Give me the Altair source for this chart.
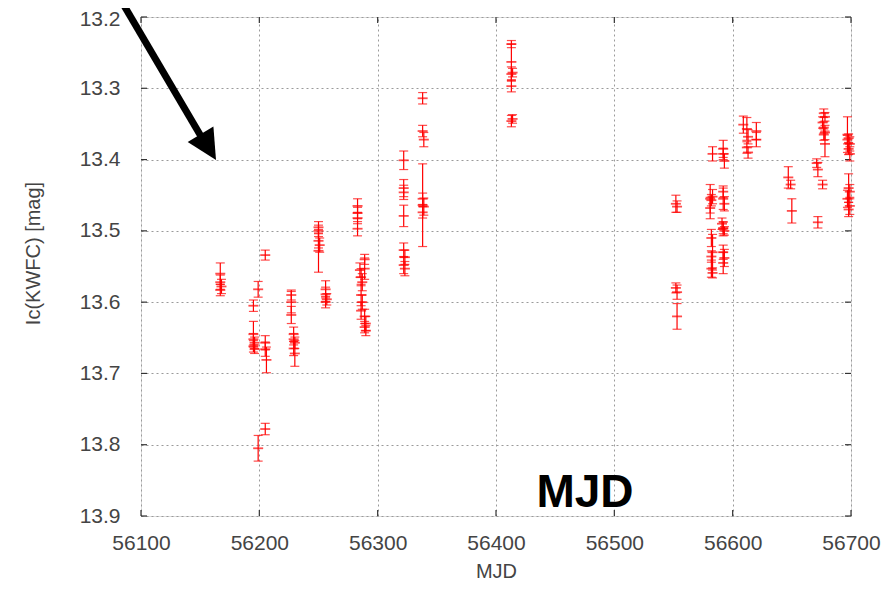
import altair as alt
import pandas as pd

# ---- data (MJD, Ic magnitude, 1-sigma error) ----
mjd = [
    56167, 56167, 56168, 56167,
    56199, 56195, 56195, 56195, 56196, 56195, 56196,
    56205, 56205, 56205, 56206, 56199, 56205,
    56227, 56227, 56227, 56229, 56229, 56230, 56229, 56230,
    56250, 56250, 56250, 56251, 56250,
    56256, 56256, 56257, 56256,
    56283, 56283, 56283, 56283,
    56289, 56289, 56285, 56286, 56287, 56286, 56287, 56286, 56289, 56290, 56289, 56290,
    56322, 56322, 56322, 56322, 56322, 56323, 56322, 56323,
    56338, 56338, 56339, 56338, 56338, 56339, 56338,
    56413, 56413, 56413, 56414, 56413, 56413, 56414,
    56552, 56553, 56552, 56553, 56553,
    56583, 56581, 56582, 56583, 56581, 56582, 56583, 56582, 56582, 56583,
    56592, 56592, 56593, 56592, 56592, 56593, 56591, 56592, 56593, 56592, 56592, 56593, 56592,
    56609, 56612, 56613, 56612, 56613, 56620, 56620,
    56647, 56649, 56650,
    56671, 56672, 56672, 56676,
    56677, 56678, 56676, 56677, 56678, 56677, 56678,
    56697, 56698, 56697, 56699, 56698, 56699, 56698, 56699, 56697, 56699, 56698,
]
mag = [
    13.560, 13.572, 13.578, 13.583,
    13.582, 13.605, 13.645, 13.652, 13.657, 13.662, 13.666,
    13.534, 13.657, 13.666, 13.681, 13.805, 13.778,
    13.590, 13.600, 13.618, 13.645, 13.652, 13.657, 13.665, 13.672,
    13.495, 13.500, 13.514, 13.520, 13.528,
    13.582, 13.589, 13.596, 13.600,
    13.465, 13.475, 13.482, 13.497,
    13.540, 13.553, 13.555, 13.565, 13.572, 13.590, 13.600, 13.612, 13.620, 13.630, 13.635, 13.640,
    13.401, 13.440, 13.446, 13.479, 13.527, 13.537, 13.548, 13.553,
    13.314, 13.360, 13.372, 13.464, 13.455, 13.466, 13.474,
    13.238, 13.263, 13.280, 13.278, 13.297, 13.346, 13.343,
    13.462, 13.466, 13.580, 13.586, 13.620,
    13.392, 13.455, 13.457, 13.452, 13.468, 13.510, 13.530, 13.536, 13.553, 13.559,
    13.385, 13.392, 13.402, 13.445, 13.455, 13.462, 13.490, 13.496, 13.500, 13.497, 13.530, 13.538, 13.545,
    13.351, 13.357, 13.368, 13.383, 13.390, 13.360, 13.372,
    13.425, 13.435, 13.472,
    13.405, 13.414, 13.488, 13.435,
    13.335, 13.340, 13.348, 13.355, 13.362, 13.365, 13.378,
    13.365, 13.370, 13.372, 13.378, 13.385, 13.392, 13.440, 13.445, 13.455, 13.465, 13.470,
]
err = [
    0.015, 0.010, 0.010, 0.008,
    0.011, 0.008, 0.018, 0.008, 0.008, 0.008, 0.006,
    0.007, 0.010, 0.010, 0.018, 0.018, 0.008,
    0.007, 0.015, 0.012, 0.010, 0.008, 0.008, 0.010, 0.018,
    0.008, 0.008, 0.010, 0.010, 0.030,
    0.012, 0.010, 0.008, 0.008,
    0.010, 0.008, 0.008, 0.010,
    0.007, 0.015, 0.010, 0.012, 0.012, 0.015, 0.010, 0.012, 0.010, 0.010, 0.008, 0.007,
    0.013, 0.012, 0.010, 0.015, 0.010, 0.010, 0.012, 0.010,
    0.008, 0.008, 0.010, 0.058, 0.008, 0.012, 0.008,
    0.005, 0.025, 0.010, 0.006, 0.008, 0.008, 0.006,
    0.012, 0.008, 0.007, 0.010, 0.018,
    0.010, 0.020, 0.008, 0.010, 0.015, 0.012, 0.025, 0.008, 0.012, 0.007,
    0.012, 0.008, 0.010, 0.008, 0.015, 0.010, 0.008, 0.008, 0.006, 0.010, 0.010, 0.012, 0.015,
    0.012, 0.016, 0.010, 0.008, 0.008, 0.012, 0.010,
    0.015, 0.006, 0.017,
    0.006, 0.010, 0.008, 0.006,
    0.006, 0.006, 0.008, 0.008, 0.010, 0.008, 0.018,
    0.025, 0.006, 0.006, 0.010, 0.008, 0.010, 0.020, 0.010, 0.012, 0.012, 0.010,
]

x_ticks = [56100, 56200, 56300, 56400, 56500, 56600, 56700]
y_ticks = [13.2, 13.3, 13.4, 13.5, 13.6, 13.7, 13.8, 13.9]
annotation = ["MJD"]

df = pd.DataFrame({"MJD": mjd, "mag": mag, "err": err})
df["lo"] = df["mag"] - df["err"]
df["hi"] = df["mag"] + df["err"]
xdf = pd.DataFrame({"v": x_ticks})
ydf = pd.DataFrame({"v": y_ticks})
one = pd.DataFrame({"t": annotation})

W, H = 710, 499
FONT = "Liberation Sans"
RED = "#ff0000"
GRID = dict(grid=True, gridColor="#9a9a9a", gridDash=[2, 3], gridWidth=1)

xs = alt.Scale(domain=[56100, 56700], nice=False, zero=False)
ys = alt.Scale(domain=[13.2, 13.9], reverse=True, nice=False, zero=False)

x_axis = alt.Axis(values=x_ticks, format="d", title="MJD", ticks=False, domain=False,
                  labelPadding=16, labelFontSize=21, labelColor="#444", labelFont=FONT,
                  titleFontSize=20, titleColor="#444", titleFont=FONT, titleFontWeight="normal",
                  titleY=61, titleBaseline="alphabetic", labelFlush=False, **GRID)
y_axis = alt.Axis(values=y_ticks, format=".1f", title="Ic(KWFC) [mag]", ticks=False, domain=False,
                  labelPadding=21, labelFontSize=21, labelColor="#444", labelFont=FONT,
                  labelOffset=alt.condition("datum.value >= 13.19 && datum.value <= 13.21",
                                            alt.value(2), alt.value(0)),
                  titleFontSize=20, titleColor="#444", titleFont=FONT, titleFontWeight="normal",
                  titleX=-108, titleY=236, titleBaseline="middle", titleAngle=-90,
                  labelFlush=False, **GRID)


def X(f):
    return alt.X(f"{f}:Q", scale=xs, axis=x_axis)


def Y(f):
    return alt.Y(f"{f}:Q", scale=ys, axis=y_axis)


base = alt.Chart(df)
bars = base.mark_rule(color=RED, strokeWidth=1.2).encode(
    x=X("MJD"), y=Y("lo"), y2="hi:Q")
cap_lo = base.mark_tick(color=RED, orient="horizontal", size=9, thickness=1.2).encode(
    x=X("MJD"), y=Y("lo"))
cap_hi = base.mark_tick(color=RED, orient="horizontal", size=9, thickness=1.2).encode(
    x=X("MJD"), y=Y("hi"))
center = base.mark_tick(color=RED, orient="horizontal", size=10, thickness=1.8).encode(
    x=X("MJD"), y=Y("mag"))

# inside tick marks on the frame (gnuplot style, mirrored)
tl = alt.Chart(ydf).mark_rule(color="#333", strokeWidth=1.2).encode(
    y=Y("v"), x=alt.value(0), x2=alt.value(6))
tr = alt.Chart(ydf).mark_rule(color="#333", strokeWidth=1.2).encode(
    y=Y("v"), x=alt.value(W - 6), x2=alt.value(W))
tb = alt.Chart(xdf).mark_rule(color="#333", strokeWidth=1.2).encode(
    x=X("v"), y=alt.value(H - 6), y2=alt.value(H))
tt = alt.Chart(xdf).mark_rule(color="#333", strokeWidth=1.2).encode(
    x=X("v"), y=alt.value(0), y2=alt.value(6))

# annotation arrow and label
shaft = alt.Chart(one).mark_rule(color="black", strokeWidth=7, strokeCap="butt").encode(
    x=alt.value(-22), y=alt.value(-20), x2=alt.value(61), y2=alt.value(121))
head = alt.Chart(one).mark_point(shape="M0,0 L1,2 L-1,2 Z", filled=True, size=900,
                                 angle=149, color="black", opacity=1).encode(
    x=alt.value(75), y=alt.value(143))
label = alt.Chart(one).mark_text(font=FONT, fontSize=46, fontWeight="bold", color="black",
                                 align="center", baseline="alphabetic").encode(
    text="t:N", x=alt.value(444), y=alt.value(490))

chart = alt.layer(tl, tr, tb, tt, bars, cap_lo, cap_hi, center, shaft, head, label).properties(
    width=W, height=H,
    autosize=alt.AutoSizeParams(type="none"),
    padding={"left": 133, "top": 9, "right": 33, "bottom": 66},
).configure_view(stroke="#333", strokeWidth=1.2).configure(background="white")

chart.save("out.html", embed_options={"renderer": "svg", "actions": False})
